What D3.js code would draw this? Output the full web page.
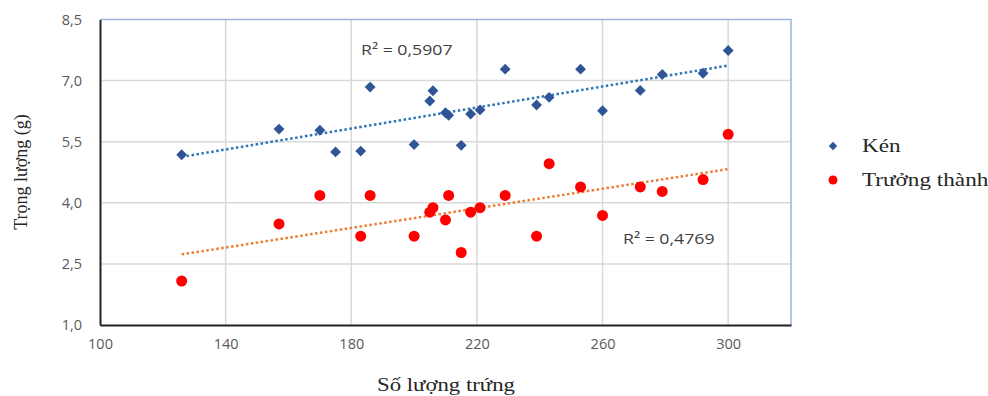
<!DOCTYPE html>
<html>
<head>
<meta charset="utf-8">
<script src="https://cdn.jsdelivr.net/npm/d3@7"></script>
<style>
  body { margin: 0; background: #fff; }
  svg { display: block; }
</style>
</head>
<body>
<svg id="chart" width="988" height="396"></svg>
<script>
// Data (số lượng trứng vs trọng lượng)
const eggs = [126, 157, 170, 175, 183, 186, 200, 205, 206, 210, 211, 215, 218, 221, 229, 239, 243, 253, 260, 272, 279, 292, 300];
const cocoon = [5.18, 5.81, 5.78, 5.25, 5.27, 6.84, 5.43, 6.5, 6.75, 6.21, 6.15, 5.41, 6.18, 6.28, 7.28, 6.4, 6.59, 7.28, 6.26, 6.76, 7.15, 7.18, 7.74];
const adult = [2.08, 3.48, 4.18, null, 3.18, 4.18, 3.18, 3.77, 3.88, 3.58, 4.18, 2.78, 3.77, 3.88, 4.18, 3.18, 4.96, 4.39, 3.69, 4.39, 4.28, 4.57, 5.68];
const xTicks = [100, 140, 180, 220, 260, 300];
const yTicks = [1.0, 2.5, 4.0, 5.5, 7.0, 8.5];
const seriesNames = ["Kén", "Trưởng thành"];
const r2Labels = ["R² = 0,5907", "R² = 0,4769"];

// Chart dimensions
const marginLeft = 100;
const marginTop = 19.5;
const plotRight = 791;
const plotBottom = 325;

const svg = d3.select("#chart");

const x = d3.scaleLinear().domain([100, 320]).range([marginLeft, plotRight]);
const y = d3.scaleLinear().domain([1, 8.5]).range([plotBottom, marginTop]);

const fmt = (v) => d3.format(".1f")(v).replace(".", ",");

// Gridlines
svg.append("g")
  .selectAll("line.vx")
  .data(xTicks.slice(1))
  .join("line")
  .attr("x1", (d) => x(d)).attr("x2", (d) => x(d))
  .attr("y1", marginTop).attr("y2", plotBottom)
  .attr("stroke", "#d9d9d9").attr("stroke-width", 1.5);

svg.append("g")
  .selectAll("line.hy")
  .data(yTicks.slice(1, -1))
  .join("line")
  .attr("x1", marginLeft).attr("x2", plotRight)
  .attr("y1", (d) => y(d)).attr("y2", (d) => y(d))
  .attr("stroke", "#d9d9d9").attr("stroke-width", 1.5);

// Plot border (top/right light blue)
svg.append("path")
  .attr("d", `M${marginLeft},${marginTop}H${plotRight}V${plotBottom}`)
  .attr("fill", "none")
  .attr("stroke", "#9db3e3")
  .attr("stroke-width", 1.5);

// Axes
const xAxis = svg.append("g")
  .attr("transform", `translate(0,${plotBottom})`)
  .call(d3.axisBottom(x).tickValues(xTicks).tickSize(0).tickPadding(14));
const yAxis = svg.append("g")
  .attr("transform", `translate(${marginLeft},0)`)
  .call(d3.axisLeft(y).tickValues(yTicks).tickFormat(fmt).tickSize(0).tickPadding(18));

[xAxis, yAxis].forEach((g) => {
  g.select(".domain").attr("stroke", "#222").attr("stroke-width", 2);
  g.selectAll("text")
    .attr("fill", "#595959")
    .style("font-family", "'Open Sans', sans-serif")
    .style("font-size", "14.5px");
});

// Trendlines (least squares)
function fit(xs, ys) {
  const pts = xs.map((v, i) => [v, ys[i]]).filter((p) => p[1] != null);
  const mx = d3.mean(pts, (p) => p[0]);
  const my = d3.mean(pts, (p) => p[1]);
  const b = d3.sum(pts, (p) => (p[0] - mx) * (p[1] - my)) / d3.sum(pts, (p) => (p[0] - mx) ** 2);
  return (v) => my + b * (v - mx);
}
const fitC = fit(eggs, cocoon);
const fitA = fit(eggs, adult);
const ext = d3.extent(eggs);

[[fitC, "#2e75b6"], [fitA, "#ed7d31"]].forEach(([f, c]) => {
  svg.append("line")
    .attr("x1", x(ext[0])).attr("y1", y(f(ext[0])))
    .attr("x2", x(ext[1])).attr("y2", y(f(ext[1])))
    .attr("stroke", c)
    .attr("stroke-width", 2.5)
    .attr("stroke-dasharray", "2.5,2.5");
});

// Kén: diamonds
const diamond = d3.symbol().type(d3.symbolDiamond2).size(75);
svg.append("g")
  .selectAll("path")
  .data(eggs.map((v, i) => [v, cocoon[i]]))
  .join("path")
  .attr("d", diamond)
  .attr("transform", (d) => `translate(${x(d[0])},${y(d[1])})`)
  .attr("fill", "#2f5597");

// Trưởng thành: circles
svg.append("g")
  .selectAll("circle")
  .data(eggs.map((v, i) => [v, adult[i]]).filter((d) => d[1] != null))
  .join("circle")
  .attr("cx", (d) => x(d[0]))
  .attr("cy", (d) => y(d[1]))
  .attr("r", 5.5)
  .attr("fill", "#ff0000");

// R² labels (text is a bit wide in the source, so stretch horizontally)
[[361, 55], [623, 244]].forEach(([tx, ty], i) => {
  svg.append("text")
    .attr("transform", `translate(${tx},${ty}) scale(1.18,1)`)
    .attr("fill", "#404040")
    .style("font-family", "'Open Sans', sans-serif")
    .style("font-size", "15px")
    .text(r2Labels[i]);
});

// Axis titles
const serif = "'Liberation Serif', 'Times New Roman', serif";
svg.append("text")
  .attr("transform", "translate(27,172) rotate(-90)")
  .attr("text-anchor", "middle")
  .attr("fill", "#262626")
  .style("font-family", serif)
  .style("font-size", "18px")
  .text("Trọng lượng (g)");
svg.append("text")
  .attr("transform", "translate(446,391) scale(1.2,1)")
  .attr("text-anchor", "middle")
  .attr("fill", "#262626")
  .style("font-family", serif)
  .style("font-size", "19px")
  .text("Số lượng trứng");

// Legend
const legend = svg.append("g").attr("transform", "translate(833,146)");
legend.append("path")
  .attr("d", d3.symbol().type(d3.symbolDiamond2).size(45))
  .attr("fill", "#2f5597");
legend.append("circle")
  .attr("cy", 34).attr("r", 4.5)
  .attr("fill", "#ff0000");
legend.selectAll("text")
  .data(seriesNames)
  .join("text")
  .attr("transform", (d, i) => `translate(29,${i * 34 + 6}) scale(1.22,1)`)
  .attr("fill", "#262626")
  .style("font-family", serif)
  .style("font-size", "19px")
  .text((d) => d);
</script>
</body>
</html>
